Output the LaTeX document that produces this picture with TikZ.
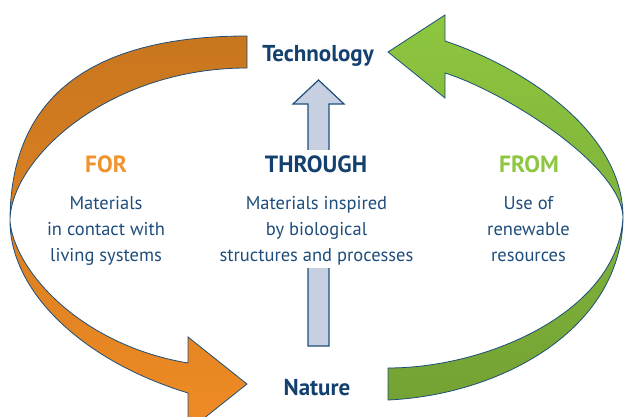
\documentclass[tikz,border=0pt]{standalone}
\usepackage{fontspec}
\setmainfont{PT Sans}

\definecolor{navy}{HTML}{13406E}
\definecolor{bodyblue}{HTML}{1E4D7C}
\definecolor{edge}{HTML}{1F4E79}
\definecolor{forange}{HTML}{F0932B}
\definecolor{fgreen}{HTML}{8DC63F}
\definecolor{orangetop}{HTML}{C8761F}
\definecolor{orangebot}{HTML}{EF8B24}
\definecolor{greentop}{HTML}{8DC63F}
\definecolor{greenbot}{HTML}{74A234}
\definecolor{steel}{HTML}{C6D0E1}

\begin{document}
\begin{tikzpicture}[x=1pt,y=-1pt,
  pole/.style={font=\fontsize{23}{26}\selectfont\bfseries, text=navy, inner sep=0pt, anchor=base},
  heading/.style={font=\fontsize{23.5}{26}\selectfont\bfseries, inner sep=0pt, anchor=base},
  body/.style={font=\fontsize{18.5}{26}\selectfont, text=bodyblue, align=center, inner sep=0pt, anchor=base},
  bandarrow/.style={draw=edge, line width=0.8pt, line join=miter},
]
\useasboundingbox (0,0) rectangle (624,417);

\begin{scope}
  \clip (0,0) rectangle (624,417);
  % left curved arrow: Technology -> Nature
  \path[bandarrow, top color=orangetop, bottom color=orangebot]
    (247,36) .. controls (87,36) and (10,100) .. (10,221)
    .. controls (10,290) and (80,360) .. (188,393)
    -- (188,431) -- (247,384) -- (188,337) -- (188,363)
    .. controls (80,345) and (14,270) .. (10,221)
    .. controls (10,160) and (107,68) .. (247,68) -- cycle;
  % right curved arrow: Nature -> Technology
  \path[bandarrow, top color=greentop, bottom color=greenbot]
    (388,52) -- (445,15) -- (445,41)
    .. controls (520,66) and (623,130) .. (623,217)
    .. controls (622,330) and (500,395) .. (388,400)
    -- (388,368)
    .. controls (490,368) and (618,310) .. (623,217)
    .. controls (621,165) and (505,92) .. (445,73)
    -- (445,98) -- cycle;
  % straight central arrow
  \path[draw=edge, line width=1.2pt, fill=steel, line join=miter]
    (308,346) -- (308,104) -- (293,104) -- (318.5,80) -- (344,104)
    -- (329,104) -- (329,346) -- cycle;
\end{scope}

% white band keeping the central arrow out of the middle texts
\coordinate (maskA) at (300,150);
\coordinate (maskB) at (337,268);
\fill[white] (maskA) rectangle (maskB);

% labels
\node[pole] (tech) at (318,62) {Technology};
\node[pole] (nature) at (317,395) {Nature};
\node[heading, text=forange] (for) at (106,173) {FOR};
\node[heading, text=navy] (through) at (316,173) {THROUGH};
\node[heading, text=fgreen] (from) at (529,173) {FROM};
\node[body] (fortext) at (106,261) {Materials\\in contact with\\living systems};
\node[body] (midtext) at (316.5,261) {Materials inspired\\by biological\\structures and processes};
\node[body] (fromtext) at (528.5,261) {Use of\\renewable\\resources};
\end{tikzpicture}
\end{document}
